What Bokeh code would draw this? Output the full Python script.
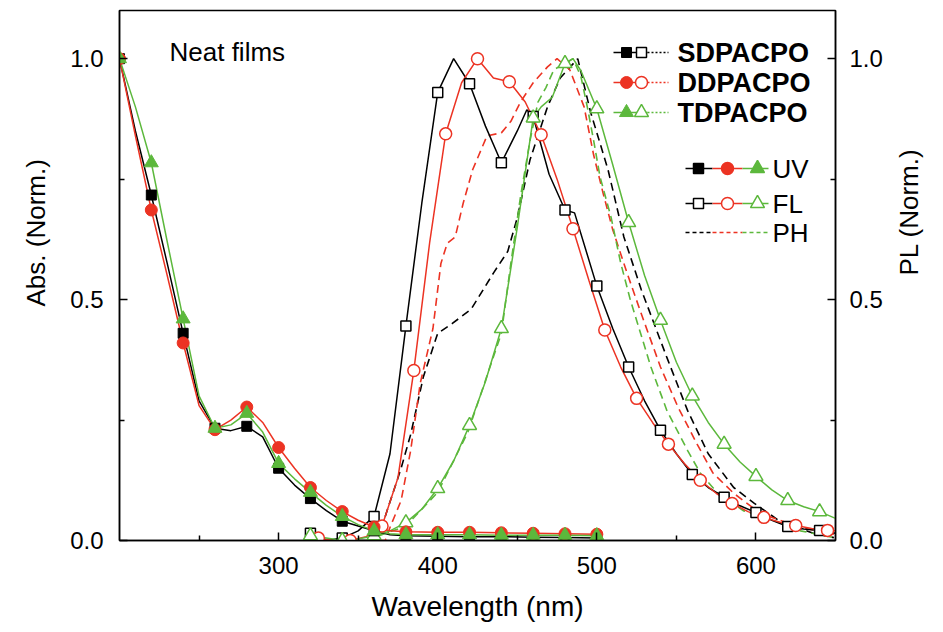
import math
from bokeh.plotting import figure
from bokeh.models import (LinearAxis, FixedTicker, PrintfTickFormatter, Label, Range1d, Title)
from bokeh.embed import file_html
from bokeh.resources import INLINE

# ---------------- data ----------------
# UV absorption (solid lines, filled markers)
uv_x = [200, 210, 220, 230, 240, 250, 260, 270, 280, 290, 300, 310, 320, 330, 340, 350,
        360, 370, 380, 400, 420, 440, 460, 480, 500]
uv_s = [1.0, 0.85, 0.717, 0.575, 0.43, 0.29, 0.233, 0.228, 0.237, 0.215, 0.15, 0.115, 0.087,
        0.062, 0.04, 0.03, 0.02, 0.012, 0.01, 0.009, 0.008, 0.008, 0.007, 0.006, 0.005]
uv_d = [1.0, 0.84, 0.686, 0.55, 0.41, 0.28, 0.23, 0.25, 0.277, 0.245, 0.193, 0.15, 0.11,
        0.083, 0.06, 0.042, 0.028, 0.02, 0.018, 0.017, 0.017, 0.016, 0.015, 0.014, 0.013]
uv_t = [1.0, 0.9, 0.784, 0.62, 0.46, 0.3, 0.233, 0.24, 0.264, 0.225, 0.16, 0.128, 0.1,
        0.073, 0.05, 0.033, 0.02, 0.014, 0.012, 0.012, 0.012, 0.011, 0.011, 0.011, 0.01]
uv_marks = [200, 220, 240, 260, 280, 300, 320, 340, 360, 380, 400, 420, 440, 460, 480, 500]

# Fluorescence (solid lines, open markers)
fl_s_x = [320, 330, 340, 350, 360, 370, 380, 390, 400, 410, 420, 430, 440, 450, 456, 460,
          470, 480, 486, 500, 510, 520, 530, 540, 550, 560, 570, 580, 590, 600, 610, 620,
          630, 640, 650]
fl_s_y = [0.015, 0.0, 0.005, 0.02, 0.05, 0.18, 0.445, 0.7, 0.93, 1.0, 0.948, 0.86, 0.784,
          0.85, 0.894, 0.88, 0.76, 0.686, 0.68, 0.528, 0.44, 0.36, 0.29, 0.229, 0.18, 0.137,
          0.11, 0.09, 0.072, 0.058, 0.042, 0.029, 0.024, 0.021, 0.015]
fl_s_marks = [320, 340, 360, 380, 400, 420, 440, 460, 480, 500, 520, 540, 560, 580, 600, 620, 640]

fl_d_x = [325, 335, 345, 355, 365, 375, 385, 395, 405, 415, 425, 435, 445, 455, 465, 475,
          485, 495, 505, 515, 525, 535, 545, 555, 565, 575, 585, 595, 605, 615, 625, 635,
          645, 650]
fl_d_y = [0.005, 0.0, 0.0, 0.008, 0.03, 0.13, 0.353, 0.62, 0.844, 0.95, 1.0, 0.96, 0.952,
          0.91, 0.842, 0.75, 0.647, 0.54, 0.437, 0.36, 0.295, 0.245, 0.2, 0.16, 0.125,
          0.098, 0.077, 0.06, 0.048, 0.038, 0.031, 0.025, 0.021, 0.02]
fl_d_marks = [325, 345, 365, 385, 405, 425, 445, 465, 485, 505, 525, 545, 565, 585, 605, 625, 645]

fl_t_x = [320, 330, 340, 350, 360, 370, 380, 390, 400, 410, 420, 430, 440, 450, 460, 465,
          472, 480, 485, 490, 500, 510, 520, 530, 540, 550, 560, 570, 580, 590, 600, 610,
          620, 630, 640, 650]
fl_t_y = [0.01, 0.005, 0.0, 0.003, 0.01, 0.02, 0.037, 0.065, 0.108, 0.165, 0.239, 0.33,
          0.44, 0.65, 0.877, 0.9, 0.92, 0.99, 1.0, 0.975, 0.896, 0.78, 0.66, 0.55, 0.457,
          0.37, 0.3, 0.245, 0.2, 0.163, 0.133, 0.105, 0.083, 0.07, 0.06, 0.046]
fl_t_marks = [320, 340, 360, 380, 400, 420, 440, 460, 480, 500, 520, 540, 560, 580, 600, 620, 640]

# Phosphorescence (dashed lines)
ph_s_x = [350, 356, 367, 377, 383, 391, 400, 409, 421, 435, 444, 450, 458, 469, 477, 488,
          496, 507, 517, 528, 536, 544, 557, 570, 586, 599, 615, 636, 649]
ph_s_y = [0.0, 0.0, 0.05, 0.15, 0.22, 0.34, 0.43, 0.45, 0.48, 0.555, 0.6, 0.67, 0.79, 0.9,
          0.96, 1.0, 0.89, 0.77, 0.63, 0.52, 0.45, 0.38, 0.27, 0.18, 0.11, 0.077, 0.04,
          0.015, 0.006]
ph_d_x = [355, 367, 370, 377, 383, 389, 397, 402, 406, 411, 416, 422, 431, 440, 446, 452,
          460, 469, 475, 483, 492, 498, 504, 510, 519, 528, 540, 551, 563, 573, 586, 603,
          628, 649]
ph_d_y = [0.0, 0.0, 0.027, 0.083, 0.187, 0.326, 0.44, 0.575, 0.617, 0.63, 0.7, 0.77, 0.84,
          0.846, 0.87, 0.91, 0.95, 0.983, 1.0, 0.977, 0.9, 0.8, 0.72, 0.645, 0.555, 0.47,
          0.36, 0.277, 0.2, 0.14, 0.098, 0.056, 0.027, 0.013]
ph_t_x = [355, 380, 400, 419, 440, 446, 452, 458, 463, 468, 473, 482, 485, 490, 494, 498,
          502, 509, 515, 521, 534, 544, 557, 565, 576, 592, 611, 628, 649]
ph_t_y = [0.0, 0.03, 0.1, 0.225, 0.43, 0.576, 0.713, 0.83, 0.91, 0.94, 0.977, 0.994, 1.0,
          0.963, 0.9, 0.83, 0.755, 0.67, 0.576, 0.5, 0.36, 0.27, 0.187, 0.14, 0.098, 0.062,
          0.042, 0.02, 0.006]

compounds = ["SDPACPO", "DDPACPO", "TDPACPO"]
x_tick_values = [300, 400, 500, 600]
x_minor_values = [250, 350, 450, 550]
y_tick_values = [0.0, 0.5, 1.0]
y_minor_values = [0.25, 0.75]

# ---------------- layout / style ----------------
FONT = "Liberation Sans"
BLACK, RED, GREEN = "#000000", "#ec3323", "#5cb83c"
XMIN, XMAX = 200, 650
YMIN, YMAX = 0.0, 1.1
W, H = 943, 632
BL, BR, BT, BB = 119, 108, 10, 92
FW = W - BL - BR
FH = H - BT - BB


def X(px):
    return XMIN + (px - BL) * (XMAX - XMIN) / FW


def Y(py):
    return YMAX - (py - BT) * (YMAX - YMIN) / FH


def pick(xs, ys, marks):
    d = dict(zip(xs, ys))
    return marks, [d[m] for m in marks]


p = figure(width=W, height=H, x_range=Range1d(XMIN, XMAX), y_range=Range1d(YMIN, YMAX),
           output_backend="svg", toolbar_location=None,
           min_border_left=BL, min_border_right=BR, min_border_top=BT, min_border_bottom=BB)
p.xgrid.visible = False
p.ygrid.visible = False
p.outline_line_color = "black"
p.outline_line_width = 1.5
p.background_fill_color = "white"
p.border_fill_color = "white"


def style_axis(ax, standoff):
    ax.axis_line_color = "black"
    ax.axis_line_width = 1.5
    ax.major_tick_in = 8
    ax.major_tick_out = 0
    ax.minor_tick_in = 5
    ax.minor_tick_out = 0
    ax.major_tick_line_width = 1.5
    ax.minor_tick_line_width = 1.5
    ax.major_label_text_font = FONT
    ax.major_label_text_font_size = "24px"
    ax.major_label_text_color = "black"
    ax.major_label_standoff = standoff
    ax.axis_label_text_font = FONT
    ax.axis_label_text_font_size = "26px"
    ax.axis_label_text_font_style = "normal"
    ax.axis_label_text_color = "black"


xa = p.xaxis[0]
xa.ticker = FixedTicker(ticks=x_tick_values, minor_ticks=x_minor_values)
style_axis(xa, 16)
xa.axis_label = "Wavelength (nm)"
xa.axis_label_text_font_size = "28px"
xa.axis_label_standoff = 14

ya = p.yaxis[0]
ya.ticker = FixedTicker(ticks=y_tick_values, minor_ticks=y_minor_values)
ya.formatter = PrintfTickFormatter(format="%.1f")
style_axis(ya, 16)

ra = LinearAxis(ticker=FixedTicker(ticks=y_tick_values, minor_ticks=y_minor_values),
                formatter=PrintfTickFormatter(format="%.1f"))
style_axis(ra, 14)
ra.axis_label = "PL (Norm.)"
ra.axis_label_orientation = math.pi / 2
ra.axis_label_standoff = 23
p.add_layout(ra, "right")

# left title as a side title, sitting a little above the centre as in the reference
p.add_layout(Title(text="Abs. (Norm.)", align="left", offset=234, standoff=34,
                   text_font=FONT, text_font_size="26px", text_font_style="normal",
                   text_color="black"), "left")

colors = [BLACK, RED, GREEN]
markers = ["square", "circle", "triangle"]
msize = {"square": 10, "circle": 12, "triangle": 14}

ph = [(ph_s_x, ph_s_y), (ph_d_x, ph_d_y), (ph_t_x, ph_t_y)]
fl = [(fl_s_x, fl_s_y, fl_s_marks), (fl_d_x, fl_d_y, fl_d_marks), (fl_t_x, fl_t_y, fl_t_marks)]
uv = [uv_s, uv_d, uv_t]

# dashed PH lines
for (xs, ys), c in zip(ph, colors):
    p.line(xs, ys, line_color=c, line_width=1.6, line_dash="8 5")
# FL and UV lines
for (xs, ys, mk), c in zip(fl, colors):
    p.line(xs, ys, line_color=c, line_width=1.5)
for ys, c in zip(uv, colors):
    p.line(uv_x, ys, line_color=c, line_width=1.5)
# FL open markers
for (xs, ys, mk), c, m in zip(fl, colors, markers):
    mx, my = pick(xs, ys, mk)
    p.scatter(mx, my, marker=m, size=msize[m], fill_color="white", line_color=c, line_width=1.5)
# UV filled markers
for ys, c, m in zip(uv, colors, markers):
    mx, my = pick(uv_x, ys, uv_marks)
    p.scatter(mx, my, marker=m, size=msize[m], fill_color=c, line_color=c, line_width=1)

# ---------------- legend (drawn by hand) ----------------
rows_top = [52, 82, 112]
for name, c, m, r in zip(compounds, colors, markers, rows_top):
    p.line([X(613), X(647)], [Y(r), Y(r)], line_color=c, line_width=1.5)
    p.line([X(647), X(668)], [Y(r), Y(r)], line_color=c, line_width=1.5, line_dash="2 2")
    p.scatter([X(626)], [Y(r)], marker=m, size=msize[m], fill_color=c, line_color=c)
    p.scatter([X(641)], [Y(r)], marker=m, size=msize[m], fill_color="white",
              line_color=c, line_width=1.5)
    p.add_layout(Label(x=X(677), y=Y(r), text=name, text_font=FONT, text_font_size="27px",
                       text_font_style="bold", text_baseline="middle", text_align="left",
                       text_color="black"))

seg = [(685, 712), (712, 742), (742, 768)]
mpos = [698, 727, 757]
for label, r, kind in [("UV", 168, "uv"), ("FL", 203, "fl"), ("PH", 232, "ph")]:
    for (a, b), c, m, mp in zip(seg, colors, markers, mpos):
        if kind == "ph":
            p.line([X(a), X(b)], [Y(r), Y(r)], line_color=c, line_width=1.5, line_dash="4 3")
        else:
            p.line([X(a), X(b)], [Y(r), Y(r)], line_color=c, line_width=1.5)
            fill = c if kind == "uv" else "white"
            p.scatter([X(mp)], [Y(r)], marker=m, size=msize[m], fill_color=fill,
                      line_color=c, line_width=1.5)
    p.add_layout(Label(x=X(772), y=Y(r), text=label, text_font=FONT, text_font_size="26px",
                       text_baseline="middle", text_align="left", text_color="black"))

p.add_layout(Label(x=X(169), y=Y(51), text="Neat films", text_font=FONT,
                   text_font_size="26px", text_baseline="middle", text_align="left",
                   text_color="black"))

open("out.html", "w").write(file_html(p, INLINE))
